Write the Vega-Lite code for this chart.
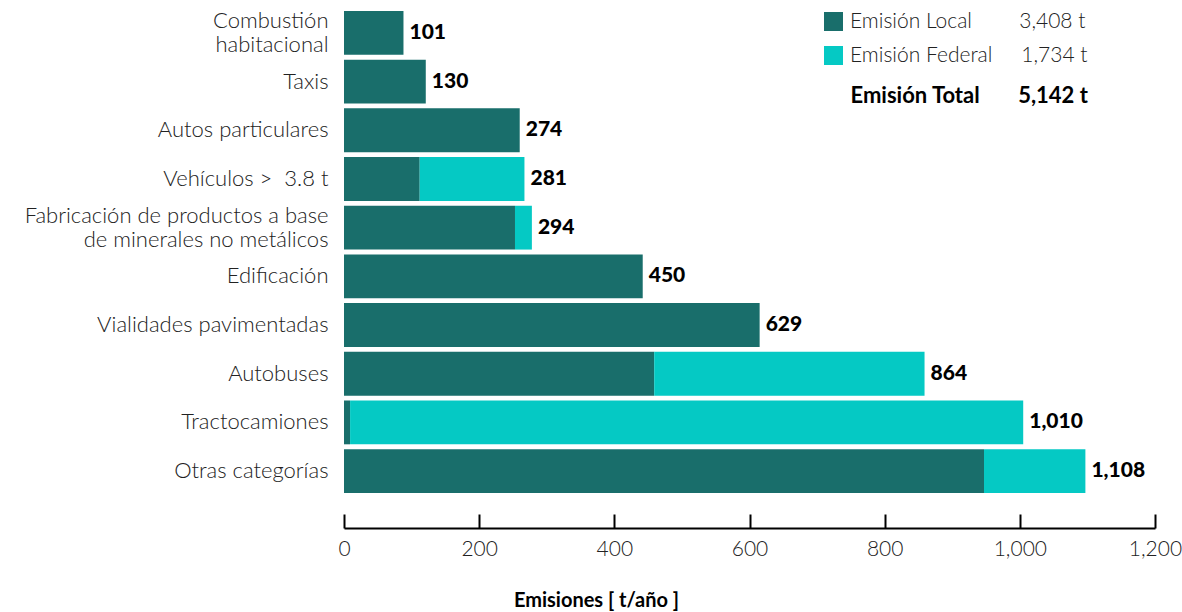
{
  "$schema": "https://vega.github.io/schema/vega-lite/v6.json",
  "width": 811,
  "height": 482,
  "autosize": {"type": "none"},
  "padding": {"left": 344, "top": 11, "right": 27, "bottom": 119},
  "background": "white",
  "config": {"view": {"stroke": null}, "font": "Lato"},
  "data": {
    "values": [
      {"categoria": "Combustión|habitacional", "tipo": "Emisión Local", "valor": 88, "etiqueta": "101"},
      {"categoria": "Taxis", "tipo": "Emisión Local", "valor": 121, "etiqueta": "130"},
      {"categoria": "Autos particulares", "tipo": "Emisión Local", "valor": 260, "etiqueta": "274"},
      {"categoria": "Vehículos >\u00a0 3.8 t", "tipo": "Emisión Local", "valor": 112, "etiqueta": "281"},
      {"categoria": "Vehículos >\u00a0 3.8 t", "tipo": "Emisión Federal", "valor": 155, "etiqueta": "281"},
      {"categoria": "Fabricación de productos a base|de minerales no metálicos", "tipo": "Emisión Local", "valor": 253, "etiqueta": "294"},
      {"categoria": "Fabricación de productos a base|de minerales no metálicos", "tipo": "Emisión Federal", "valor": 25, "etiqueta": "294"},
      {"categoria": "Edificación", "tipo": "Emisión Local", "valor": 442, "etiqueta": "450"},
      {"categoria": "Vialidades pavimentadas", "tipo": "Emisión Local", "valor": 615, "etiqueta": "629"},
      {"categoria": "Autobuses", "tipo": "Emisión Local", "valor": 459, "etiqueta": "864"},
      {"categoria": "Autobuses", "tipo": "Emisión Federal", "valor": 400, "etiqueta": "864"},
      {"categoria": "Tractocamiones", "tipo": "Emisión Local", "valor": 9, "etiqueta": "1,010"},
      {"categoria": "Tractocamiones", "tipo": "Emisión Federal", "valor": 996, "etiqueta": "1,010"},
      {"categoria": "Otras categorías", "tipo": "Emisión Local", "valor": 947, "etiqueta": "1,108"},
      {"categoria": "Otras categorías", "tipo": "Emisión Federal", "valor": 150, "etiqueta": "1,108"}
    ]
  },
  "encoding": {
    "y": {
      "field": "categoria",
      "type": "nominal",
      "sort": ["Combustión|habitacional", "Taxis", "Autos particulares", "Vehículos >\u00a0 3.8 t", "Fabricación de productos a base|de minerales no metálicos", "Edificación", "Vialidades pavimentadas", "Autobuses", "Tractocamiones", "Otras categorías"],
      "scale": {"paddingInner": 0.1, "paddingOuter": 0},
      "axis": {
        "title": null,
        "ticks": false,
        "domain": false,
        "labelPadding": 16,
        "labelFontSize": 22,
        "labelFont": "Lato",
        "labelFontWeight": 300,
        "labelColor": "#222222",
        "labelExpr": "split(datum.label, '|')",
        "labelLineHeight": 24,
        "labelLimit": 400,
        "labelOffset": {"condition": {"test": "indexof(datum.value, '|') >= 0", "value": -12}, "value": 0}
      }
    }
  },
  "layer": [
    {
      "mark": {"type": "bar"},
      "encoding": {
        "x": {
          "field": "valor",
          "type": "quantitative",
          "stack": "zero",
          "scale": {"domain": [0, 1200], "nice": false},
          "axis": {
            "values": [0, 200, 400, 600, 800, 1000, 1200],
            "format": ",d",
            "offset": 35,
            "grid": false,
            "domainColor": "#000000",
            "domainWidth": 2,
            "tickColor": "#000000",
            "tickWidth": 2,
            "tickSize": -14,
            "labelPadding": 24,
            "labelFontSize": 21,
            "labelFont": "Lato",
            "labelFontWeight": 300,
            "labelColor": "#222222",
            "labelFlush": false,
            "title": "Emisiones [ t/año ]",
            "titleFont": "Lato",
            "titleFontSize": 20,
            "titleFontWeight": "bold",
            "titleColor": "#000000",
            "titleX": 252,
            "titleY": 72,
            "titleAlign": "center",
            "titleBaseline": "middle"
          }
        },
        "color": {
          "field": "tipo",
          "type": "nominal",
          "scale": {"domain": ["Emisión Local", "Emisión Federal"], "range": ["#196e6b", "#05c9c4"]},
          "legend": {
            "orient": "none",
            "legendX": 479,
            "legendY": 0,
            "padding": 0,
            "symbolType": "square",
            "symbolSize": 361,
            "symbolStrokeWidth": 0,
            "symbolOffset": 0,
            "labelOffset": 6,
            "rowPadding": 12,
            "labelFont": "Lato",
            "labelFontSize": 21,
            "labelFontWeight": 300,
            "labelColor": "#222222",
            "labelLimit": 400,
            "labelExpr": "datum.label == 'Emisión Local' ? 'Emisión Local\u2003\u2003\u20033,408 t' : 'Emisión Federal\u2003\u2002\u20091,734 t'",
            "title": "\u200b\u2003\u2002Emisión Total\u2003\u2003\u2009\u20095,142 t",
            "titleOrient": "bottom",
            "titleAnchor": "start",
            "titleFont": "Lato",
            "titleFontSize": 22,
            "titleFontWeight": "bold",
            "titleColor": "#000000",
            "titlePadding": 20,
            "titleLimit": 400
          }
        },
        "order": {"field": "tipo", "sort": "descending"}
      }
    },
    {
      "transform": [
        {"aggregate": [{"op": "sum", "field": "valor", "as": "total"}], "groupby": ["categoria", "etiqueta"]}
      ],
      "mark": {"type": "text", "align": "left", "baseline": "middle", "dx": 6, "fontSize": 21, "fontWeight": 900, "font": "Lato", "color": "#000000"},
      "encoding": {
        "x": {"field": "total", "type": "quantitative"},
        "text": {"field": "etiqueta"}
      }
    }
  ]
}
